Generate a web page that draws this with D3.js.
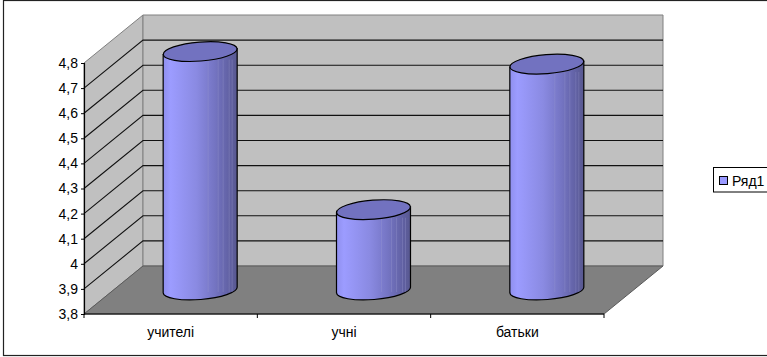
<!DOCTYPE html>
<html><head><meta charset="utf-8">
<style>html,body{margin:0;padding:0;background:#fff;overflow:hidden}svg{display:block}text{font-family:"Liberation Sans",Arial,sans-serif;fill:#000}</style>
<script src="https://cdn.jsdelivr.net/npm/d3@7"></script></head>
<body><script>
const categories = ["учителі", "учні", "батьки"];
const values = [4.75, 4.12, 4.70];
const yTicks = [3.8, 3.9, 4, 4.1, 4.2, 4.3, 4.4, 4.5, 4.6, 4.7, 4.8];
const seriesName = "Ряд1";

const W = 767, H = 357;
const depthX = 59, depthY = -48;
const svg = d3.select("body").append("svg").attr("width", W).attr("height", H);

const x = d3.scaleBand().domain(categories).range([84, 604]);
const y = d3.scaleLinear().domain([3.8, 4.8]).range([314, 63]);
const poly = d3.line();
const fontSize = 14;

// outer chart frame
svg.append("rect").attr("x", 3.5).attr("y", 0.5).attr("width", W + 10).attr("height", 355)
  .attr("fill", "#fff").attr("stroke", "#222").attr("stroke-width", 1.2);

// cylinder shading
const defs = svg.append("defs");
const grad = defs.append("linearGradient").attr("id", "cyl");
[[0, "#8f8fee"], [0.1, "#9c9cff"], [0.45, "#8a8ae2"], [0.7, "#7474c2"], [0.9, "#6060a2"], [1, "#58588f"]]
  .forEach(([o, c]) => grad.append("stop").attr("offset", o).attr("stop-color", c));

const [x0, x1] = x.range(), yB = y(3.8), yT = y(4.8);

// side wall, back wall and floor
svg.append("path").attr("d", poly([[x0, yB], [x0 + depthX, yB + depthY], [x0 + depthX, yT + depthY], [x0, yT]]) + "Z")
  .attr("fill", "#c0c0c0").attr("stroke", "#808080");
svg.append("path").attr("d", poly([[x0 + depthX, yB + depthY], [x1 + depthX, yB + depthY], [x1 + depthX, yT + depthY], [x0 + depthX, yT + depthY]]) + "Z")
  .attr("fill", "#c0c0c0").attr("stroke", "#808080");
svg.append("path").attr("d", poly([[x0, yB], [x1, yB], [x1 + depthX, yB + depthY], [x0 + depthX, yB + depthY]]) + "Z")
  .attr("fill", "#808080").attr("stroke", "#5a5a5a");

// gridlines running along the side wall and across the back wall
const inner = yTicks.filter(t => t > 3.8 && t < 4.8);
svg.append("g").selectAll("path").data(inner).join("path")
  .attr("d", t => poly([[x0, y(t)], [x0 + depthX, y(t) + depthY], [x1 + depthX, y(t) + depthY]]))
  .attr("fill", "none").attr("stroke", "#111").attr("stroke-width", 1.1);

// cylinders, with both end caps tilted slightly upward to the right
const rx = 37, ry = 9.5, tilt = -4.5;
const rise = rx * Math.sin(-tilt * Math.PI / 180);
const cyl = svg.append("g").selectAll("g").data(categories).join("g")
  .attr("transform", d => `translate(${x(d) + x.bandwidth() / 2 + depthX / 2},0)`);
const topY = (d, i) => y(values[i]) + depthY / 2;
const floorY = yB + depthY / 2;
cyl.append("path")
  .attr("d", (d, i) => {
    const t = topY(d, i), b = floorY;
    return `M${-rx},${t + rise} L${-rx},${b + rise} A${rx},${ry} ${tilt} 0 0 ${rx},${b - rise} L${rx},${t - rise} Z`;
  })
  .attr("fill", "url(#cyl)").attr("stroke", "#000").attr("stroke-width", 1.2);
// faint vertical streaks on the shaded side
cyl.selectAll("line").data((d, i) => [8, 18, 23, 29, 32].map(o => ({ o, i }))).join("line")
  .attr("x1", s => s.o).attr("x2", s => s.o)
  .attr("y1", s => y(values[s.i]) + depthY / 2 + 8).attr("y2", floorY + 2)
  .attr("stroke", "#9a9ad0").attr("stroke-opacity", 0.3);
cyl.append("ellipse").attr("rx", rx).attr("ry", ry)
  .attr("transform", (d, i) => `translate(0,${topY(d, i)}) rotate(${tilt})`)
  .attr("fill", "#7272c0").attr("stroke", "#000").attr("stroke-width", 1.2);

// value axis on the front-left edge
const yAxis = svg.append("g").attr("transform", `translate(${x0},0)`)
  .call(d3.axisLeft(y).tickValues(yTicks).tickSize(3).tickPadding(3)
    .tickFormat(t => String(t).replace(".", ",")));
yAxis.select(".domain").attr("stroke", "#000").attr("stroke-width", 1.2);
yAxis.selectAll("line").attr("stroke", "#000");
yAxis.selectAll("text").attr("font-size", fontSize).style("font-family", '"Liberation Sans"');

// category axis along the front of the floor
const axisY = yB;
const xg = svg.append("g");
xg.append("line").attr("x1", x0).attr("x2", x1).attr("y1", axisY).attr("y2", axisY).attr("stroke", "#000").attr("stroke-width", 1.2);
xg.selectAll("line.t").data(categories.map(d => x(d)).concat([x1])).join("line").attr("class", "t")
  .attr("x1", d => d).attr("x2", d => d).attr("y1", axisY).attr("y2", axisY + 4).attr("stroke", "#000");
xg.selectAll("text").data(categories).join("text")
  .attr("x", d => x(d) + x.bandwidth() / 2).attr("y", 337)
  .attr("text-anchor", "middle").attr("font-size", fontSize).text(d => d);

// legend
const lg = svg.append("g");
lg.append("rect").attr("x", 713.5).attr("y", 167.5).attr("width", 70).attr("height", 24.5)
  .attr("fill", "#fff").attr("stroke", "#000");
lg.append("rect").attr("x", 719.5).attr("y", 176.5).attr("width", 8).attr("height", 8)
  .attr("fill", "#9999ff").attr("stroke", "#000");
lg.append("text").attr("x", 732).attr("y", 185.5).attr("font-size", fontSize).text(seriesName);
</script></body></html>
